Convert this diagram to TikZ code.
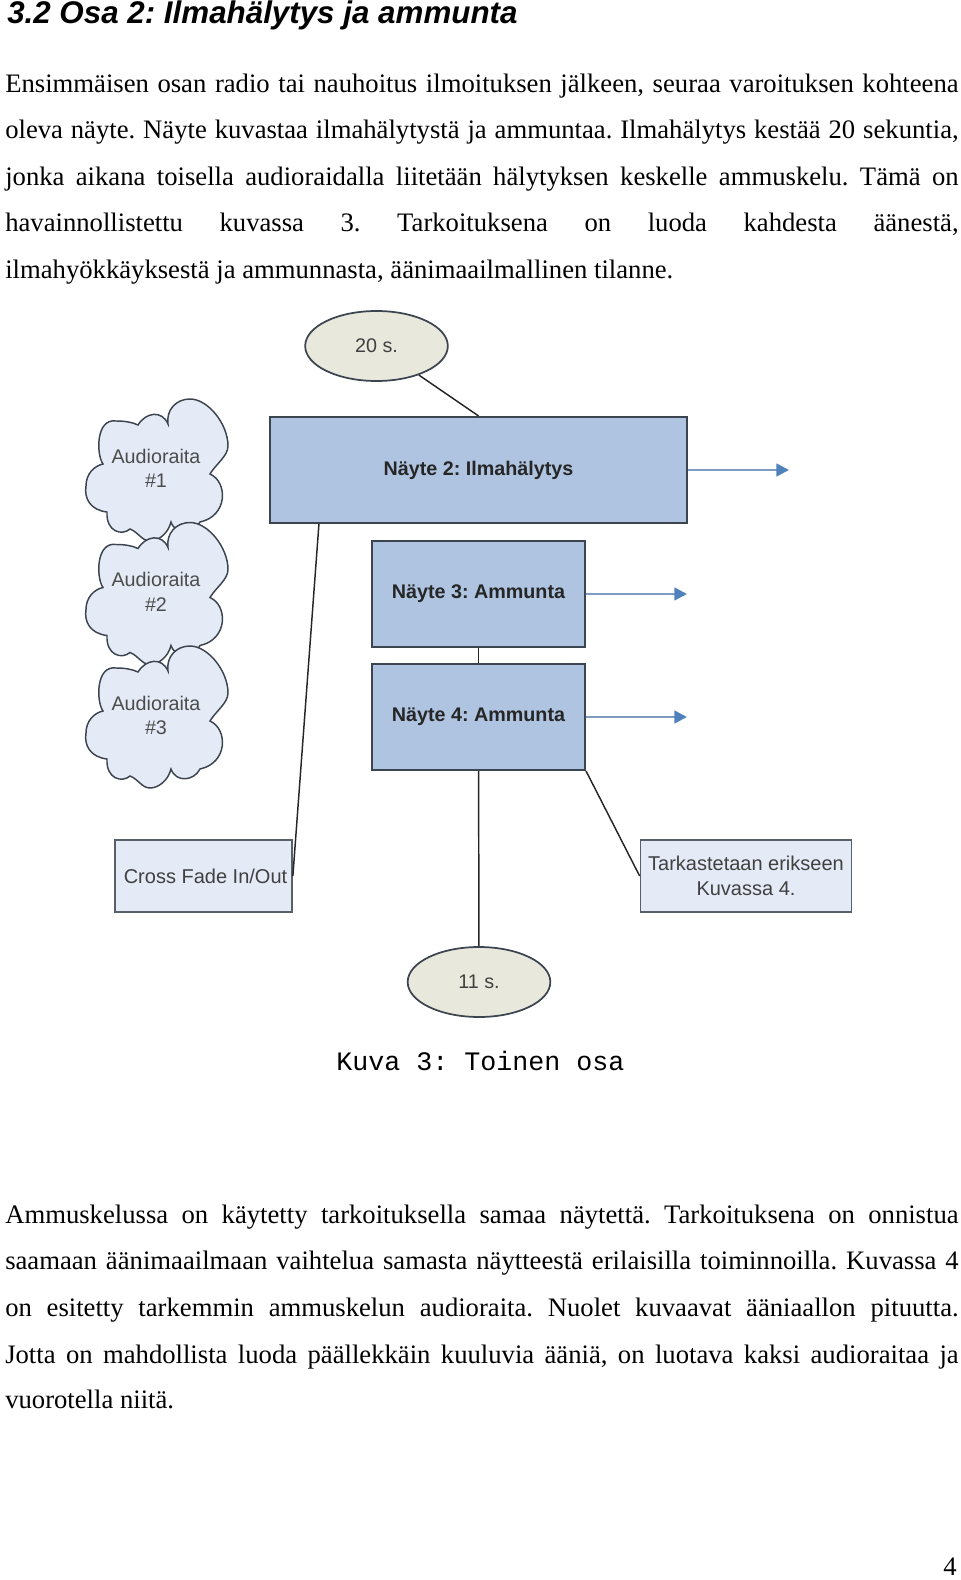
\documentclass[tikz,border=0pt]{standalone}
\usepackage{fontspec}
\setmainfont{Liberation Serif}
\setsansfont{Liberation Sans}
\setmonofont{Liberation Mono}
\usetikzlibrary{arrows.meta,calc,shapes.geometric}
\definecolor{boxdark}{HTML}{AFC4E1}
\definecolor{boxlight}{HTML}{E4EBF7}
\definecolor{ovalfill}{HTML}{E8E9DC}
\definecolor{edgedark}{HTML}{3C4450}
\definecolor{flowline}{HTML}{7F9BC2}
\definecolor{flowtip}{HTML}{4F81BD}
\newcommand{\fullline}[1]{\makebox[715pt][s]{#1}}
\frenchspacing
\tikzset{
    bodyline/.style={anchor=base west,inner sep=0pt,font=\fontsize{20}{24}\selectfont},
    samplebox/.style={draw=edgedark,line width=1.6pt,fill=boxdark,inner sep=0pt,minimum width=#1,minimum height=79.5pt,font=\sffamily\bfseries\fontsize{14.8}{18}\selectfont,text=black!85},
    notebox/.style={draw=edgedark!85,line width=1.3pt,fill=boxlight,inner sep=0pt,minimum width=#1,minimum height=54pt,align=center,font=\sffamily\fontsize{15}{18.5}\selectfont,text=black!75},
    timeoval/.style={draw=edgedark,line width=1.3pt,fill=ovalfill,ellipse,inner sep=0pt,minimum width=107pt,minimum height=52.5pt,font=\sffamily\fontsize{14.8}{18}\selectfont,text=black!75},
    tracktext/.style={align=center,inner sep=0pt,font=\sffamily\fontsize{14.8}{18.4}\selectfont,text=black!70},
    link/.style={draw=black!85,line width=1.1pt},
    flow/.style={draw=flowline,line width=1.9pt,-{Triangle[length=9.5pt,width=9.5pt,color=flowtip]}},
    audiocloud/.pic={
        \draw[draw=edgedark,line width=1.1pt,fill=boxlight]
            (12,-44) .. controls (10,-58) and (20,-69) .. (34,-69)
            .. controls (52,-69) and (72,-44) .. (72,-22)
            .. controls (72,-12) and (60,-4) .. (54,6)
            .. controls (72,14) and (72,48) .. (44,54)
            .. controls (38,66) and (20,68) .. (15,54)
            .. controls (12,66) and (2,73) .. (-6,73)
            .. controls (-14,73) and (-18,64) .. (-26,61)
            .. controls (-34,68) and (-50,64) .. (-49,44)
            .. controls (-66,42) and (-72,30) .. (-70,18)
            .. controls (-70,6) and (-62,-2) .. (-53,-4)
            .. controls (-60,-14) and (-60,-50) .. (-40,-47)
            .. controls (-32,-47) and (-24,-46) .. (-18,-43)
            .. controls (-10,-56) and (6,-58) .. (12,-44) -- cycle;
    }
}
\begin{document}
\begin{tikzpicture}[x=0.75pt,y=-0.75pt]
    \useasboundingbox (0,0) rectangle (960,1580);
    \node[anchor=base west,inner sep=0pt,font=\sffamily\bfseries\itshape\fontsize{23.5}{27}\selectfont] (heading) at (7,24) {3.2 Osa 2: Ilmahälytys ja ammunta};
    \node[bodyline] (introa) at (5,92.5) {\fullline{Ensimmäisen osan radio tai nauhoitus ilmoituksen jälkeen, seuraa varoituksen kohteena}};
    \node[bodyline] (introb) at (5,138.8) {\fullline{oleva näyte. Näyte kuvastaa ilmahälytystä ja ammuntaa. Ilmahälytys kestää 20 sekuntia,}};
    \node[bodyline] (introc) at (5,185.2) {\fullline{jonka aikana toisella audioraidalla liitetään hälytyksen keskelle ammuskelu. Tämä on}};
    \node[bodyline] (introd) at (5,231.5) {\fullline{havainnollistettu kuvassa 3. Tarkoituksena on luoda kahdesta äänestä,}};
    \node[bodyline] (introe) at (5,278) {ilmahyökkäyksestä ja ammunnasta, äänimaailmallinen tilanne.};

    \pic at (156,468) {audiocloud};
    \pic at (156,591.5) {audiocloud};
    \pic at (156,715) {audiocloud};
    \node[tracktext] (track1) at (156,468.5) {Audioraita\\\#1};
    \node[tracktext] (track2) at (156,592) {Audioraita\\\#2};
    \node[tracktext] (track3) at (156,715.5) {Audioraita\\\#3};

    \node[timeoval] (len20) at (376.5,346) {20 s.};
    \node[samplebox=312.75pt] (sample2) at (478.5,470) {Näyte 2: Ilmahälytys};
    \node[samplebox=159.75pt] (sample3) at (478.5,594) {Näyte 3: Ammunta};
    \node[samplebox=159.75pt] (sample4) at (478.5,717) {Näyte 4: Ammunta};
    \node[notebox=132.75pt] (fade) at (203.5,876) {\hspace*{3pt}Cross Fade In/Out};
    \node[notebox=158.25pt] (detail) at (746,876) {Tarkastetaan erikseen\\Kuvassa 4.};
    \node[timeoval] (len11) at (479,982) {11 s.};

    \coordinate (end2) at (789,470);
    \coordinate (end3) at (687,594);
    \coordinate (end4) at (687,717);
    \draw[link] (len20) -- (sample2.north);
    \draw[link] ($(sample2.south west)+(50,0)$) -- (fade.east);
    \draw[link] (sample3) -- (sample4);
    \draw[link] (sample4) -- (len11);
    \draw[link] (sample4.south east) -- (detail.west);
    \draw[flow] (sample2.east) -- (end2);
    \draw[flow] (sample3.east) -- (end3);
    \draw[flow] (sample4.east) -- (end4);

    \node[bodyline,font=\ttfamily\fontsize{20}{24}\selectfont] (caption) at (336,1070) {Kuva 3: Toinen osa};

    \node[bodyline] (restb) at (5,1223) {\fullline{Ammuskelussa on käytetty tarkoituksella samaa näytettä. Tarkoituksena on onnistua}};
    \node[bodyline] (restc) at (5,1269.5) {\fullline{saamaan äänimaailmaan vaihtelua samasta näytteestä erilaisilla toiminnoilla. Kuvassa 4}};
    \node[bodyline] (restd) at (5,1316.5) {\fullline{on esitetty tarkemmin ammuskelun audioraita. Nuolet kuvaavat ääniaallon pituutta.}};
    \node[bodyline] (reste) at (5,1363) {\fullline{Jotta on mahdollista luoda päällekkäin kuuluvia ääniä, on luotava kaksi audioraitaa ja}};
    \node[bodyline] (restf) at (5,1408.5) {vuorotella niitä.};
    \node[bodyline] (pagenum) at (943,1575) {4};
\end{tikzpicture}
\end{document}
